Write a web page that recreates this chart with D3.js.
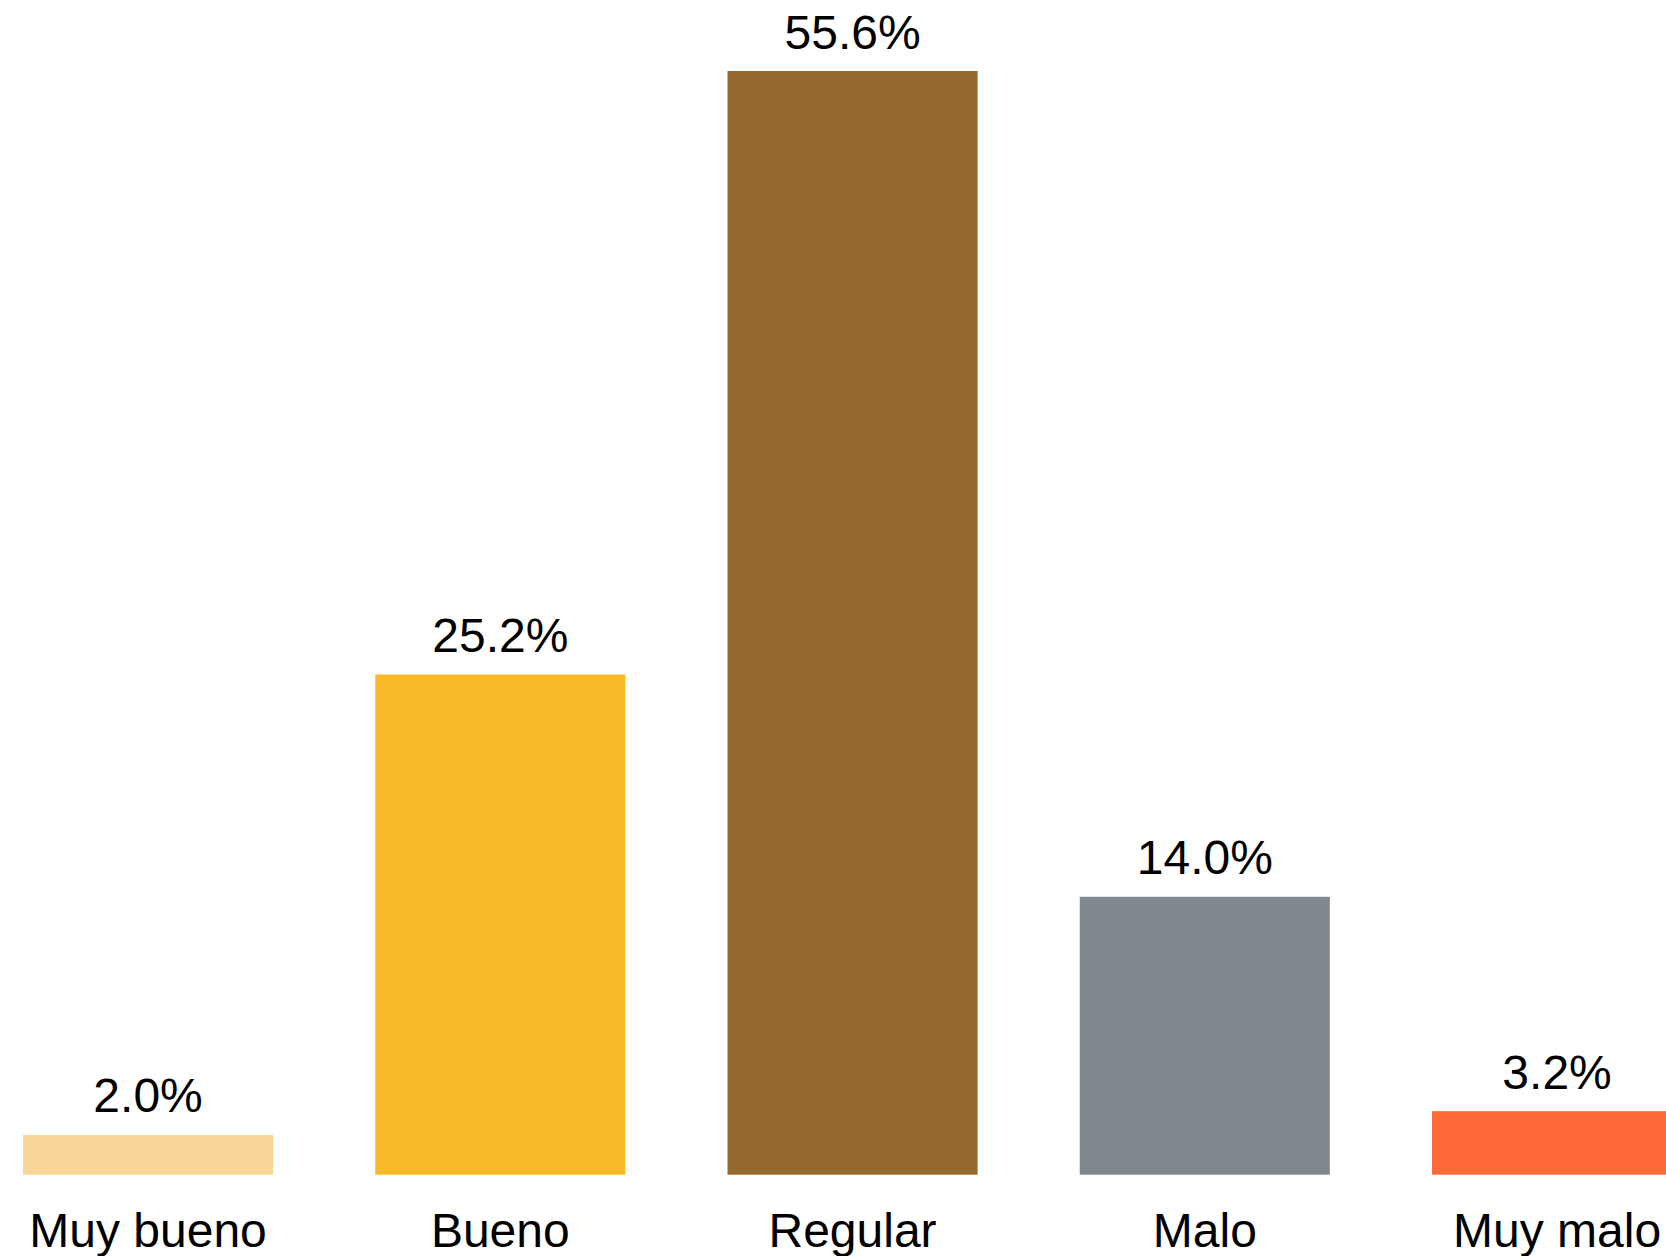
<!DOCTYPE html>
<html>
<head>
<meta charset="utf-8">
<script src="https://cdn.jsdelivr.net/npm/d3@7"></script>
<style>
  html, body { margin: 0; padding: 0; background: #fff; }
  svg { display: block; }
  text { font-family: "Liberation Sans", Arial, sans-serif; fill: #000; }
</style>
</head>
<body>
<div id="chart"></div>
<script>
var categories = ['Muy bueno', 'Bueno', 'Regular', 'Malo', 'Muy malo'];
var values = [2.0, 25.2, 55.6, 14.0, 3.2];
var colors = ['#F9D597', '#F9BA2A', '#94692D', '#80898F', '#FF6C39'];

var width = 1666;
var height = 1256;
var baseline = 1174.7;

var svg = d3.select('#chart').append('svg')
  .attr('width', width)
  .attr('height', height);

// step ~352px, bars 250px wide, first bar starts at x=23
var step = 352.25;
var x = d3.scaleBand()
  .domain(categories)
  .range([23 - 0.145 * step, 23 - 0.145 * step + categories.length * step])
  .paddingInner(0.29)
  .paddingOuter(0.145);

var y = d3.scaleLinear()
  .domain([0, 55.6])
  .range([baseline, 71]);

var data = categories.map(function (c, i) {
  return { name: c, value: values[i], color: colors[i] };
});

svg.append('g')
  .selectAll('rect')
  .data(data)
  .enter()
  .append('rect')
  .attr('x', function (d) { return x(d.name); })
  .attr('y', function (d) { return y(d.value); })
  .attr('width', x.bandwidth())
  .attr('height', function (d) { return baseline - y(d.value); })
  .attr('fill', function (d) { return d.color; });

svg.append('g')
  .selectAll('text')
  .data(data)
  .enter()
  .append('text')
  .attr('x', function (d) { return x(d.name) + x.bandwidth() / 2; })
  .attr('y', function (d) { return y(d.value) - 22.5; })
  .attr('text-anchor', 'middle')
  .style('font-size', '48px')
  .text(function (d) { return d3.format('.1f')(d.value) + '%'; });

var axis = d3.axisBottom(x).tickSize(0).tickPadding(0);
var gx = svg.append('g')
  .attr('transform', 'translate(0,' + baseline + ')')
  .call(axis);
gx.select('.domain').remove();
gx.selectAll('text')
  .attr('dy', null)
  .attr('y', 72)
  .style('font-size', '48px')
  .style('font-family', '"Liberation Sans", Arial, sans-serif')
  .attr('fill', '#000');
</script>
</body>
</html>
